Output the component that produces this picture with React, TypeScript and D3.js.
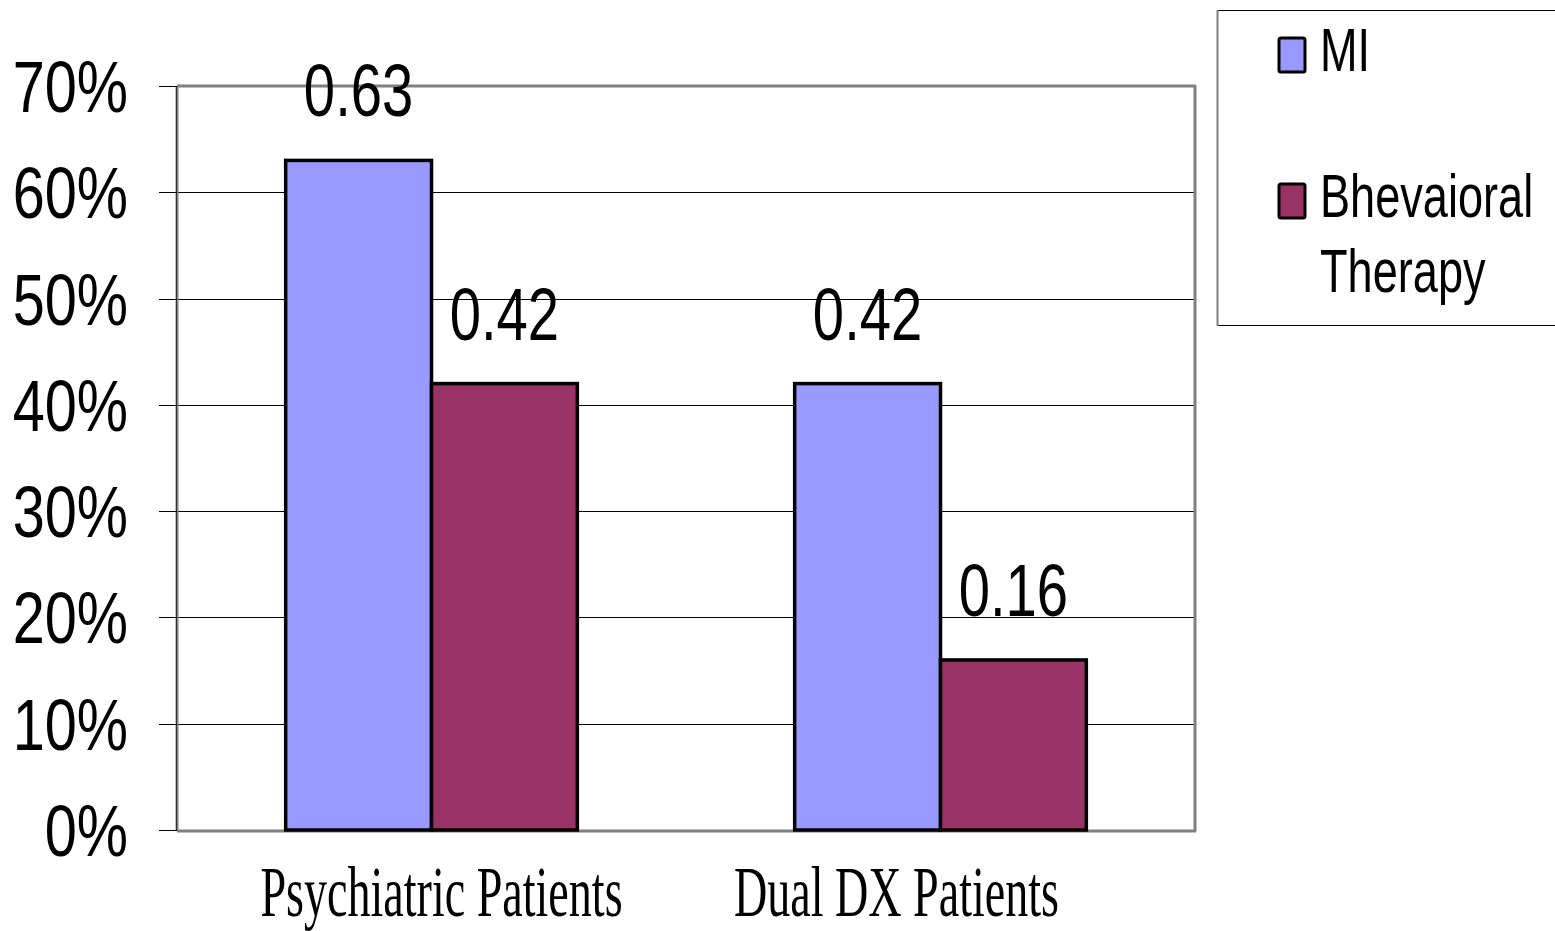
import React from "react";
import * as d3 from "d3";

// Grouped bar chart: share of patients by treatment type
const categories = ["Psychiatric Patients", "Dual DX Patients"];
const seriesNames = ["MI", "Bhevaioral Therapy"];
const miValues = [0.63, 0.42];
const behavioralValues = [0.42, 0.16];
const yTicks = [0, 0.1, 0.2, 0.3, 0.4, 0.5, 0.6, 0.7];

const colors = ["#9999FF", "#993366"];
// horizontal nudge of each category label relative to its band centre
const categoryLabelNudge = [10, -44];

const W = 1555;
const H = 931;
const plot = { left: 177, right: 1195, top: 86, bottom: 830 };

const sansFont = "'Liberation Sans', Arial, sans-serif";
const serifFont = "'Liberation Serif', 'Times New Roman', serif";

const crisp = (v: number) => Math.round(v) + 0.5;

export default function App() {
  const series = [miValues, behavioralValues];

  const x0 = d3
    .scaleBand<string>()
    .domain(categories)
    .range([plot.left, plot.right])
    .paddingInner(0.427)
    .paddingOuter(0.2135);

  const x1 = d3
    .scaleBand<number>()
    .domain(seriesNames.map((_, i) => i))
    .range([0, x0.bandwidth()]);

  const y = d3.scaleLinear().domain([0, 0.7]).range([plot.bottom, plot.top]);

  const pct = d3.format(".0%");

  return (
    <svg
      width={W}
      height={H}
      style={{ position: "absolute", left: 0, top: 0, background: "#fff" }}
    >
      {/* horizontal gridlines */}
      {yTicks.slice(1, -1).map((t) => (
        <line
          key={"g" + t}
          x1={plot.left}
          x2={plot.right}
          y1={crisp(y(t))}
          y2={crisp(y(t))}
          stroke="#000"
          strokeWidth={1}
        />
      ))}

      {/* plot frame */}
      <line x1={plot.left} x2={plot.right + 1} y1={plot.top} y2={plot.top} stroke="#808080" strokeWidth={3} />
      <line x1={plot.right} x2={plot.right} y1={plot.top} y2={plot.bottom + 1} stroke="#808080" strokeWidth={3} />
      <line x1={plot.left} x2={plot.right + 1} y1={plot.bottom + 1} y2={plot.bottom + 1} stroke="#808080" strokeWidth={3} />
      <line x1={plot.left} x2={plot.left} y1={plot.top} y2={plot.bottom + 1} stroke="#808080" strokeWidth={3} />
      <line x1={plot.left - 0.5} x2={plot.left - 0.5} y1={plot.top} y2={plot.bottom} stroke="#333" strokeWidth={1} />

      {/* y ticks and labels */}
      {yTicks.map((t) => (
        <g key={"t" + t}>
          <line x1={159} x2={plot.left} y1={crisp(y(t))} y2={crisp(y(t))} stroke="#000" strokeWidth={1} />
          <text
            transform={`translate(128,${y(t) + 26}) scale(0.8,1)`}
            textAnchor="end"
            fontFamily={sansFont}
            fontSize={72}
            fill="#000"
          >
            {pct(t)}
          </text>
        </g>
      ))}

      {/* bars */}
      {categories.map((c, ci) => (
        <g key={c} transform={`translate(${x0(c)},0)`}>
          {series.map((vals, si) => {
            const bx = x1(si)!;
            const bw = x1.bandwidth();
            const v = vals[ci];
            return (
              <g key={si}>
                <rect
                  x={bx}
                  y={y(v)}
                  width={bw}
                  height={y(0) - y(v)}
                  fill={colors[si]}
                  stroke="#000"
                  strokeWidth={3.5}
                />
                <text
                  transform={`translate(${bx + bw / 2},${y(v) - 44}) scale(0.76,1)`}
                  textAnchor="middle"
                  fontFamily={sansFont}
                  fontSize={74}
                  fill="#000"
                >
                  {String(v)}
                </text>
              </g>
            );
          })}
        </g>
      ))}

      {/* category labels */}
      {categories.map((c, i) => (
        <text
          key={"x" + c}
          transform={`translate(${x0(c)! + x0.bandwidth() / 2 + categoryLabelNudge[i]},916) scale(0.64,1)`}
          textAnchor="middle"
          fontFamily={serifFont}
          fontSize={72}
          fill="#000"
        >
          {c}
        </text>
      ))}

      {/* legend */}
      <g>
        <rect x={1217.5} y={10.5} width={345} height={315} fill="#fff" stroke="#000" strokeWidth={1} />
        <line x1={1217.5} x2={1217.5} y1={10} y2={326} stroke="#808080" strokeWidth={2} />
        {seriesNames.map((name, i) => {
          const top = i === 0 ? 38 : 184;
          const words = i === 0 ? [name] : ["Bhevaioral", "Therapy"];
          return (
            <g key={name}>
              <rect
                x={1279}
                y={top}
                width={26}
                height={34}
                rx={2}
                fill={colors[i]}
                stroke="#000"
                strokeWidth={3}
              />
              {words.map((w, wi) => (
                <text
                  key={w}
                  transform={`translate(1320,${top + 33 + wi * 75}) scale(0.74,1)`}
                  fontFamily={sansFont}
                  fontSize={61}
                  fill="#000"
                >
                  {w}
                </text>
              ))}
            </g>
          );
        })}
      </g>
    </svg>
  );
}
